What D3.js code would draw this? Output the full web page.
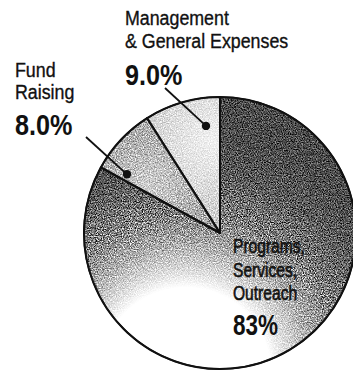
<!DOCTYPE html>
<html>
<head>
<meta charset="utf-8">
<script src="https://cdn.jsdelivr.net/npm/d3@7"></script>
<style>
  html, body { margin: 0; padding: 0; background: #fff; }
  svg { display: block; }
  text { font-family: "Liberation Sans", Arial, sans-serif; fill: #111; }
</style>
</head>
<body>
<svg id="chart" width="353" height="372"></svg>
<script>
// Expense breakdown
const categories = ["Programs, Services, Outreach", "Fund Raising", "Management & General Expenses"];
const values = [83, 8.0, 9.0];
const valueLabels = ["83%", "8.0%", "9.0%"];
const nameLines = [["Programs,", "Services,", "Outreach"], ["Fund", "Raising"], ["Management", "& General Expenses"]];

const cx = 220, cy = 233, R = 136;

const svg = d3.select("#chart");
const defs = svg.append("defs");

// Shading for each slice, given in page coordinates
function gradient(id, gx, gy, gr, stops) {
  const gEl = defs.append("radialGradient").attr("id", id)
    .attr("gradientUnits", "userSpaceOnUse")
    .attr("cx", gx).attr("cy", gy).attr("r", gr)
    .attr("gradientTransform", `translate(${-cx},${-cy})`);
  stops.forEach(([o, c]) => gEl.append("stop").attr("offset", o).attr("stop-color", c));
}
gradient("gProg", 186, 372, 235,
  [[0, "#ffffff"], [0.36, "#ffffff"], [0.42, "#e2e2e2"], [0.54, "#aeaeae"], [0.68, "#7e7e7e"], [0.84, "#5c5c5c"], [1, "#4c4c4c"]]);
gradient("gFund", 150, 185, 75, [[0, "#cccccc"], [1, "#a2a2a2"]]);
gradient("gMgmt", 212, 140, 90, [[0, "#f0f0f0"], [1, "#c8c8c8"]]);
const fills = ["url(#gProg)", "url(#gFund)", "url(#gMgmt)"];

// Printed-screen grain: gray noise overlaid on the fill, white stays white
const grain = defs.append("filter").attr("id", "grain")
  .attr("color-interpolation-filters", "sRGB")
  .attr("x", "-5%").attr("y", "-5%").attr("width", "110%").attr("height", "110%");
grain.append("feTurbulence").attr("type", "fractalNoise").attr("baseFrequency", 0.85)
  .attr("numOctaves", 2).attr("seed", 7).attr("result", "noise");
grain.append("feColorMatrix").attr("in", "noise").attr("type", "matrix")
  .attr("values", "2 0 0 0 -0.5  2 0 0 0 -0.5  2 0 0 0 -0.5  0 0 0 0 1").attr("result", "grayNoise");
grain.append("feBlend").attr("in", "grayNoise").attr("in2", "SourceGraphic").attr("mode", "overlay").attr("result", "textured");
grain.append("feComposite").attr("in", "textured").attr("in2", "SourceGraphic").attr("operator", "in");

const pie = d3.pie().sort(null).value(d => d);
const arcs = pie(values);
const arc = d3.arc().innerRadius(0).outerRadius(R);

svg.append("g").attr("transform", `translate(${cx},${cy})`)
  .selectAll("path.slice").data(arcs).join("path")
  .attr("class", "slice")
  .attr("d", arc)
  .attr("fill", (d, i) => fills[i])
  .attr("filter", "url(#grain)");

// Slice borders
svg.append("g").attr("transform", `translate(${cx},${cy})`)
  .selectAll("path.edge").data(arcs).join("path")
  .attr("class", "edge")
  .attr("d", arc)
  .attr("fill", "none")
  .attr("stroke", "#111")
  .attr("stroke-width", 2)
  .attr("stroke-linejoin", "round");

svg.append("circle").attr("cx", cx).attr("cy", cy).attr("r", R)
  .attr("fill", "none").attr("stroke", "#111").attr("stroke-width", 1.6);

// Callout dots and leader lines for the two small slices
const calloutPos = { 1: { t: 0.12, r: 110, from: [86, 137] }, 2: { t: 0.77, r: 108, from: [165, 88] } };
Object.entries(calloutPos).forEach(([i, c]) => {
  const a = arcs[i];
  const ang = a.startAngle + c.t * (a.endAngle - a.startAngle);
  const dx = cx + c.r * Math.sin(ang), dy = cy - c.r * Math.cos(ang);
  svg.append("line").attr("x1", c.from[0]).attr("y1", c.from[1]).attr("x2", dx).attr("y2", dy)
    .attr("stroke", "#111").attr("stroke-width", 1.8);
  svg.append("circle").attr("cx", dx).attr("cy", dy).attr("r", 4.2).attr("fill", "#111");
});

// Labels in a narrow face
function label(x, y, s, size, bold, sx) {
  return svg.append("text")
    .attr("transform", `translate(${x},${y}) scale(${sx},1)`)
    .attr("font-size", size)
    .attr("font-weight", bold ? "bold" : "normal")
    .attr("stroke", "#111").attr("stroke-width", bold ? 0 : 0.35)
    .text(s);
}

label(125, 25, nameLines[2][0], 20, false, 0.89);
label(125, 48, nameLines[2][1], 20, false, 0.89);
label(125, 85, valueLabels[2], 30, true, 0.84);

label(15, 77, nameLines[1][0], 20, false, 0.89);
label(15, 99, nameLines[1][1], 20, false, 0.89);
label(15, 135, valueLabels[1], 30, true, 0.84);

nameLines[0].forEach((s, k) =>
  label(233, 253 + k * 23.5, s, 19.5, false, 0.8).attr("stroke-width", 0.6));
label(233, 335, valueLabels[0], 30, true, 0.75);
</script>
</body>
</html>
